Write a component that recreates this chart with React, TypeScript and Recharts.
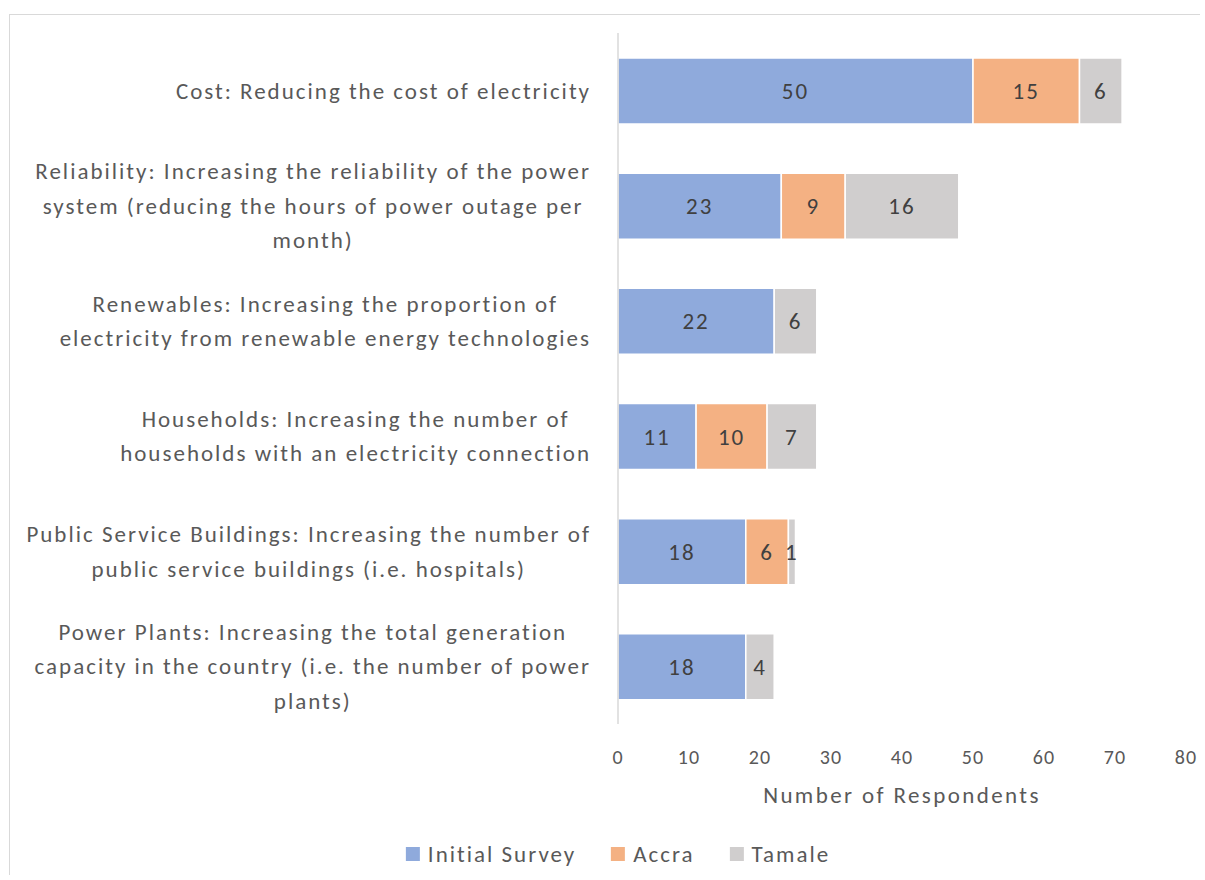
import { BarChart, Bar, XAxis, YAxis, LabelList } from "recharts";

// categories (top to bottom) and the lines their labels wrap onto
const categories = [
  "Cost",
  "Reliability",
  "Renewables",
  "Households",
  "Public Service Buildings",
  "Power Plants",
];
const categoryLines = [
  ["Cost: Reducing the cost of electricity"],
  [
    "Reliability: Increasing the reliability of the power",
    "system (reducing the hours of power outage per",
    "month)",
  ],
  ["Renewables: Increasing the proportion of", "electricity from renewable energy technologies"],
  ["Households: Increasing the number of", "households with an electricity connection"],
  ["Public Service Buildings: Increasing the number of", "public service buildings (i.e. hospitals)"],
  [
    "Power Plants: Increasing the total generation",
    "capacity in the country (i.e. the number of power",
    "plants)",
  ],
];

const initialSurvey = [50, 23, 22, 11, 18, 18];
const accra = [15, 9, 0, 10, 6, 0];
const tamale = [6, 16, 6, 7, 1, 4];

const xTicks = [0, 10, 20, 30, 40, 50, 60, 70, 80];

const series = [
  { key: "initial", name: "Initial Survey", color: "#8faadc" },
  { key: "accra", name: "Accra", color: "#f4b183" },
  { key: "tamale", name: "Tamale", color: "#d0cece" },
];

const FONT = "Carlito, Calibri, Lato, sans-serif";
const LABEL_SIZE = 23;
const LABEL_SPACING = 2;
const LINE_HEIGHT = 34.5;

const data = categories.map((name, i) => ({
  name,
  initial: initialSurvey[i],
  accra: accra[i],
  tamale: tamale[i],
}));

let ctx: CanvasRenderingContext2D | null = null;
function textWidth(s: string) {
  if (!ctx) ctx = document.createElement("canvas").getContext("2d");
  if (!ctx) return s.length * (LABEL_SIZE * 0.48 + LABEL_SPACING);
  ctx.font = `${LABEL_SIZE}px ${FONT}`;
  return ctx.measureText(s).width + (s.length - 1) * LABEL_SPACING;
}

function CategoryTick({ y, payload }: any) {
  const lines = categoryLines[categories.indexOf(payload.value)] || [payload.value];
  const maxW = Math.max(...lines.map(textWidth));
  const right = 590;
  const cx = right - maxW / 2;
  const first = y - ((lines.length - 1) / 2) * LINE_HEIGHT + LABEL_SIZE * 0.35;
  return (
    <text
      textAnchor="middle"
      fontSize={LABEL_SIZE}
      fontFamily={FONT}
      letterSpacing={LABEL_SPACING}
      fill="#595959"
    >
      {lines.map((l, i) => (
        <tspan key={i} x={cx} y={first + i * LINE_HEIGHT}>
          {l}
        </tspan>
      ))}
    </text>
  );
}

function ValueTick({ x, payload }: any) {
  return (
    <text
      x={x}
      y={764}
      textAnchor="middle"
      fontSize={20}
      letterSpacing={1}
      fontFamily={FONT}
      fill="#595959"
    >
      {payload.value}
    </text>
  );
}

const hideZero = (v: any) => (v ? v : "");

export default function App() {
  return (
    <div>
      {/* chart frame, only top/left edges are visible in the original */}
      <div
        style={{
          position: "absolute",
          left: 9,
          top: 14,
          width: 1190,
          height: 860,
          borderTop: "1.5px solid #d9d9d9",
          borderLeft: "1.5px solid #d9d9d9",
        }}
      />
      <div style={{ position: "absolute", left: 0, top: 0 }}>
        <BarChart
          width={1200}
          height={875}
          data={data}
          layout="vertical"
          margin={{ top: 33, right: 14, left: 0, bottom: 111 }}
          barSize={66}
        >
          <XAxis
            type="number"
            domain={[0, 80]}
            ticks={xTicks}
            axisLine={false}
            tickLine={false}
            tick={<ValueTick />}
            height={40}
            label={{
              content: ({ viewBox }: any) => (
                <text
                  x={viewBox.x + viewBox.width / 2}
                  y={803}
                  textAnchor="middle"
                  fontSize={23}
                  letterSpacing={2.4}
                  fontFamily={FONT}
                  fill="#595959"
                >
                  Number of Respondents
                </text>
              ),
            }}
          />
          <YAxis
            type="category"
            dataKey="name"
            width={618}
            axisLine={{ stroke: "#d9d9d9", strokeWidth: 1.5 }}
            tickLine={false}
            tick={<CategoryTick />}
            interval={0}
          />
          {series.map((s) => (
            <Bar
              key={s.key}
              dataKey={s.key}
              name={s.name}
              stackId="a"
              fill={s.color}
              stroke="#ffffff"
              strokeWidth={1.5}
              isAnimationActive={false}
            >
              <LabelList
                dataKey={s.key}
                position="center"
                formatter={hideZero}
                fill="#404040"
                fontSize={23}
                letterSpacing={2}
                fontFamily={FONT}
              />
            </Bar>
          ))}
        </BarChart>
      </div>
      {/* Legend */}
      <div
        style={{
          position: "absolute",
          left: 618,
          top: 840,
          transform: "translateX(-50%)",
          display: "flex",
          gap: 35,
          whiteSpace: "nowrap",
          fontFamily: FONT,
          fontSize: 23,
          letterSpacing: 2,
          color: "#595959",
        }}
      >
        {series.map((s) => (
          <div key={s.key} style={{ display: "flex", alignItems: "center", gap: 8 }}>
            <span style={{ width: 14, height: 14, background: s.color, display: "inline-block" }} />
            <span>{s.name}</span>
          </div>
        ))}
      </div>
    </div>
  );
}
